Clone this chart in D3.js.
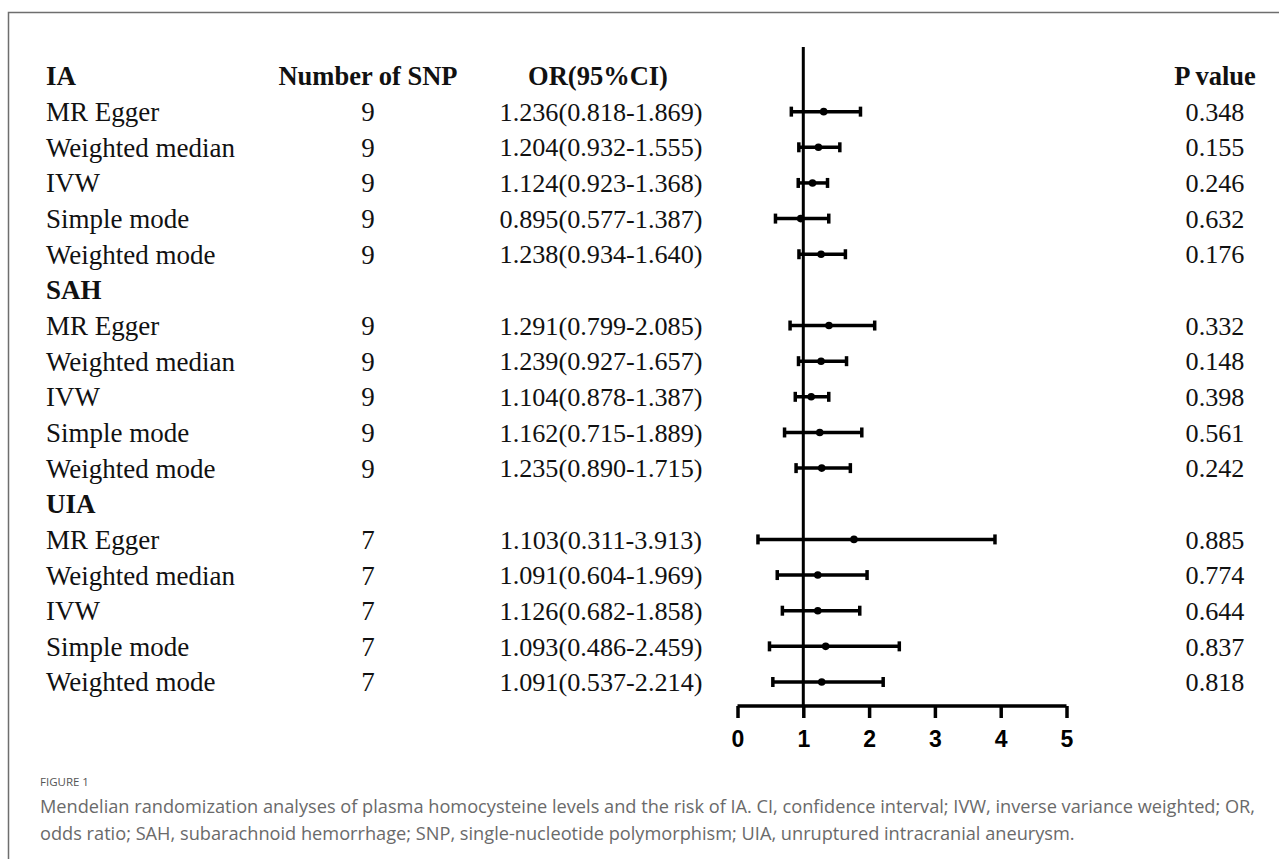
<!DOCTYPE html>
<html>
<head>
<meta charset="utf-8">
<script src="https://cdn.jsdelivr.net/npm/d3@7"></script>
<style>
  body { margin: 0; background: #fff; }
  svg { display: block; }
</style>
</head>
<body>
<div id="chart"></div>
<script>
'use strict';

// Data
var groups = ["IA", "SAH", "UIA"];
var methods = ["MR Egger", "Weighted median", "IVW", "Simple mode", "Weighted mode"];
var nSnp = [9, 9, 7];
var orText = [
  ["1.236(0.818-1.869)", "1.204(0.932-1.555)", "1.124(0.923-1.368)", "0.895(0.577-1.387)", "1.238(0.934-1.640)"],
  ["1.291(0.799-2.085)", "1.239(0.927-1.657)", "1.104(0.878-1.387)", "1.162(0.715-1.889)", "1.235(0.890-1.715)"],
  ["1.103(0.311-3.913)", "1.091(0.604-1.969)", "1.126(0.682-1.858)", "1.093(0.486-2.459)", "1.091(0.537-2.214)"]
];
var pValues = [
  ["0.348", "0.155", "0.246", "0.632", "0.176"],
  ["0.332", "0.148", "0.398", "0.561", "0.242"],
  ["0.885", "0.774", "0.644", "0.837", "0.818"]
];
// plotted point estimates (as drawn in the figure)
var points = [
  [1.31, 1.23, 1.14, 0.96, 1.27],
  [1.39, 1.27, 1.12, 1.25, 1.28],
  [1.77, 1.22, 1.22, 1.34, 1.28]
];
var lower = [
  [0.818, 0.932, 0.923, 0.577, 0.934],
  [0.799, 0.927, 0.878, 0.715, 0.890],
  [0.311, 0.604, 0.682, 0.486, 0.537]
];
var upper = [
  [1.869, 1.555, 1.368, 1.387, 1.640],
  [2.085, 1.657, 1.387, 1.889, 1.715],
  [3.913, 1.969, 1.858, 2.459, 2.214]
];
var xTicks = [0, 1, 2, 3, 4, 5];
var caption = [
  "Mendelian randomization analyses of plasma homocysteine levels and the risk of IA. CI, confidence interval; IVW, inverse variance weighted; OR,",
  "odds ratio; SAH, subarachnoid hemorrhage; SNP, single-nucleotide polymorphism; UIA, unruptured intracranial aneurysm."
];

// Build row list
var rows = [];
groups.forEach(function(g, gi){
  rows.push({type: "group", label: g});
  methods.forEach(function(m, mi){
    rows.push({
      type: "method", label: m, n: nSnp[gi], or: orText[gi][mi], p: pValues[gi][mi],
      est: points[gi][mi], lo: lower[gi][mi], hi: upper[gi][mi]
    });
  });
});

var width = 1279, height = 859;
var svg = d3.select("#chart").append("svg")
  .attr("width", width)
  .attr("height", height);

// frame
svg.append("path")
  .attr("d", "M8.5,859V12.5H1279")
  .attr("fill", "none")
  .attr("stroke", "#6e6e6e")
  .attr("stroke-width", 1.5);

var y = d3.scaleLinear()
  .domain([0, rows.length - 1])
  .range([76, 682]);

var x = d3.scaleLinear()
  .domain([0, 5])
  .range([737.5, 1066.5]);

var serif = "'Liberation Serif', 'Times New Roman', serif";
var colLabel = 46, colN = 368, colOR = 601, colP = 1215;

var table = svg.append("g")
  .attr("font-family", serif)
  .attr("font-size", 27)
  .attr("fill", "#111");

// header columns
var headers = [
  {t: "Number of SNP", x: colN},
  {t: "OR(95%CI)", x: colOR - 3},
  {t: "P value", x: colP}
];
table.selectAll(".hdr")
  .data(headers)
  .enter().append("text")
  .attr("class", "hdr")
  .attr("x", function(d){ return d.x })
  .attr("y", y(0))
  .attr("dy", "0.35em")
  .attr("text-anchor", "middle")
  .attr("font-weight", "bold")
  .attr("font-size", 26.5)
  .text(function(d){ return d.t });

var rowG = table.selectAll(".row")
  .data(rows)
  .enter().append("g")
  .attr("class", "row")
  .attr("transform", function(d, i){ return "translate(0," + y(i) + ")" });

rowG.append("text")
  .attr("x", colLabel)
  .attr("dy", "0.35em")
  .attr("font-weight", function(d){ return d.type === "group" ? "bold" : null })
  .text(function(d){ return d.label });

var mRows = rowG.filter(function(d){ return d.type === "method" });

mRows.append("text")
  .attr("x", colN)
  .attr("dy", "0.35em")
  .attr("text-anchor", "middle")
  .text(function(d){ return d.n });

mRows.append("text")
  .attr("x", colOR)
  .attr("dy", "0.35em")
  .attr("text-anchor", "middle")
  .attr("font-size", 26.2)
  .text(function(d){ return d.or });

mRows.append("text")
  .attr("x", colP)
  .attr("dy", "0.35em")
  .attr("text-anchor", "middle")
  .attr("font-size", 26.2)
  .text(function(d){ return d.p });

// reference line at OR = 1
var axisY = 706;
svg.append("line")
  .attr("x1", x(1)).attr("x2", x(1))
  .attr("y1", 47).attr("y2", axisY)
  .attr("stroke", "#000")
  .attr("stroke-width", 3);

// error bars
var eb = mRows.append("g").attr("class", "eb");
eb.append("line")
  .attr("x1", function(d){ return x(d.lo) })
  .attr("x2", function(d){ return x(d.hi) })
  .attr("stroke", "#000")
  .attr("stroke-width", 3.5);
eb.append("line")
  .attr("x1", function(d){ return x(d.lo) })
  .attr("x2", function(d){ return x(d.lo) })
  .attr("y1", -5).attr("y2", 5)
  .attr("stroke", "#000")
  .attr("stroke-width", 3.5);
eb.append("line")
  .attr("x1", function(d){ return x(d.hi) })
  .attr("x2", function(d){ return x(d.hi) })
  .attr("y1", -5).attr("y2", 5)
  .attr("stroke", "#000")
  .attr("stroke-width", 3.5);
eb.append("circle")
  .attr("cx", function(d){ return x(d.est) })
  .attr("r", 3.8)
  .attr("fill", "#000");

// x axis
var axis = svg.append("g")
  .attr("transform", "translate(0," + axisY + ")")
  .call(d3.axisBottom(x).tickValues(xTicks).tickSize(12).tickSizeOuter(0).tickFormat(d3.format("d")));
axis.select(".domain")
  .attr("stroke", "#000")
  .attr("stroke-width", 3.5)
  .attr("d", "M" + x(0) + ",0H" + x(5));
axis.selectAll(".tick line")
  .attr("stroke", "#000")
  .attr("stroke-width", 3.5);
axis.selectAll(".tick text")
  .attr("y", 24.5)
  .attr("dy", "0.71em")
  .attr("fill", "#000")
  .attr("font-family", "'Liberation Sans', Arial, sans-serif")
  .attr("font-weight", "bold")
  .attr("font-size", 23);

// caption
var cap = svg.append("g")
  .attr("font-family", "'Open Sans', Lato, sans-serif")
  .attr("fill", "#6a6a6a");
cap.append("text")
  .attr("x", 40).attr("y", 786)
  .attr("font-size", 11.5)
  .attr("fill", "#555")
  .text("FIGURE 1");
cap.selectAll(".cap")
  .data(caption)
  .enter().append("text")
  .attr("class", "cap")
  .attr("x", 40)
  .attr("y", function(d, i){ return 813 + i * 27 })
  .attr("font-size", 18.2)
  .text(function(d){ return d });
</script>
</body>
</html>
